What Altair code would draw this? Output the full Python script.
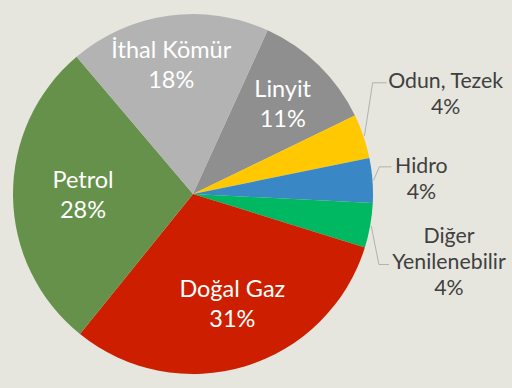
import math
import altair as alt
import pandas as pd

# ---- data ----
categories = ["Linyit", "Odun, Tezek", "Hidro", "Diğer Yenilenebilir", "Doğal Gaz", "Petrol", "İthal Kömür"]
label_names = ["Linyit", "Odun, Tezek", "Hidro", "Diğer\nYenilenebilir", "Doğal Gaz", "Petrol", "İthal Kömür"]
shares = [11, 4, 4, 4, 31, 28, 18]
colors = ["#8f8f8f", "#ffc800", "#3a87c6", "#00b862", "#cd1f00", "#66914a", "#b3b3b3"]

# ---- layout / style ----
FONT = "Lato"
BG = "#e6e6de"
START = math.radians(24.5)
TOTAL = sum(shares)
W, H = 386, 388
CX, CY = W / 2, H / 2
R = 180
IN_SIZE, IN_LH = 23.5, 30
OUT_SIZE, OUT_LH = 21.3, 26

# label placement style (block centre): radius, dx, dy, inside?
label_style = {
    "Linyit": (127, 1, 2, True),
    "Odun, Tezek": (272, -5, -12, False),
    "Hidro": (229, 0, 3, False),
    "Diğer Yenilenebilir": (265, -5, 23, False),
    "Doğal Gaz": (118, 5, -2, True),
    "Petrol": (110, 0, 1, True),
    "İthal Kömür": (129, -4, 0, True),
}
# leader offsets relative to label centre: (elbow dx, end dx, dy)
leader_style = {
    "Odun, Tezek": (-73, -59, -12),
    "Hidro": (-42, -30, -13),
    "Diğer Yenilenebilir": (-70, -60, 1),
}

df = pd.DataFrame({
    "cat": categories,
    "share": shares,
    "idx": list(range(len(categories))),
    "label": [f"{n}\n{v}%" for n, v in zip(label_names, shares)],
})

theta_scale = alt.Scale(domain=[0, TOTAL], range=[START, START + 2 * math.pi])
base = alt.Chart(df)

pie = base.mark_arc(outerRadius=R).encode(
    theta=alt.Theta("share:Q", stack=True, scale=theta_scale),
    color=alt.Color("cat:N", scale=alt.Scale(domain=categories, range=colors), legend=None),
    order=alt.Order("idx:Q"),
)

layers = [pie]
for cat, name in zip(categories, label_names):
    r, dx, dy, inside = label_style[cat]
    lh = IN_LH if inside else OUT_LH
    n_lines = name.count("\n") + 2
    layers.append(
        base.transform_window(cum="sum(share)", sort=[alt.SortField("idx")])
        .transform_calculate(mid="datum.cum - datum.share / 2")
        .transform_filter(alt.datum.cat == cat)
        .mark_text(
            radius=r, dx=dx, dy=dy - (n_lines - 1) * lh / 2, font=FONT,
            fontSize=IN_SIZE if inside else OUT_SIZE,
            lineHeight=lh,
            lineBreak="\n", align="center", baseline="middle",
            color="#ffffff" if inside else "#404040",
        )
        .encode(theta=alt.Theta("mid:Q", stack=None, scale=theta_scale), text="label:N")
    )

# leader lines derived from slice mid-angles
rows = []
cum = 0
for cat, v in zip(categories, shares):
    mid = cum + v / 2
    cum += v
    if cat not in leader_style:
        continue
    a = START + 2 * math.pi * mid / TOTAL
    r, dx, dy, _ = label_style[cat]
    lx = CX + r * math.sin(a) + dx
    ly = CY - r * math.cos(a) + dy
    ex, ed, ey = leader_style[cat]
    pts = [
        (CX + (R + 1) * math.sin(a), CY - (R + 1) * math.cos(a)),
        (lx + ex, ly + ey),
        (lx + ed, ly + ey),
    ]
    for i, (x, y) in enumerate(pts):
        rows.append({"cat": cat, "o": i, "x": x, "y": y})
lead_df = pd.DataFrame(rows)
leaders = alt.Chart(lead_df).mark_line(color="#b0b0b0", strokeWidth=1).encode(
    x=alt.X("x:Q", scale=None, axis=None),
    y=alt.Y("y:Q", scale=None, axis=None),
    detail="cat:N",
    order="o:Q",
)
layers.insert(1, leaders)

chart = alt.layer(*layers).properties(
    width=W, height=H,
    autosize=alt.AutoSizeParams(type="none"),
    padding={"left": 0, "top": 0, "right": 512 - W, "bottom": 0},
    background=BG,
).configure_view(stroke=None)

chart.save("out.html", embed_options={"renderer": "svg", "actions": False})
